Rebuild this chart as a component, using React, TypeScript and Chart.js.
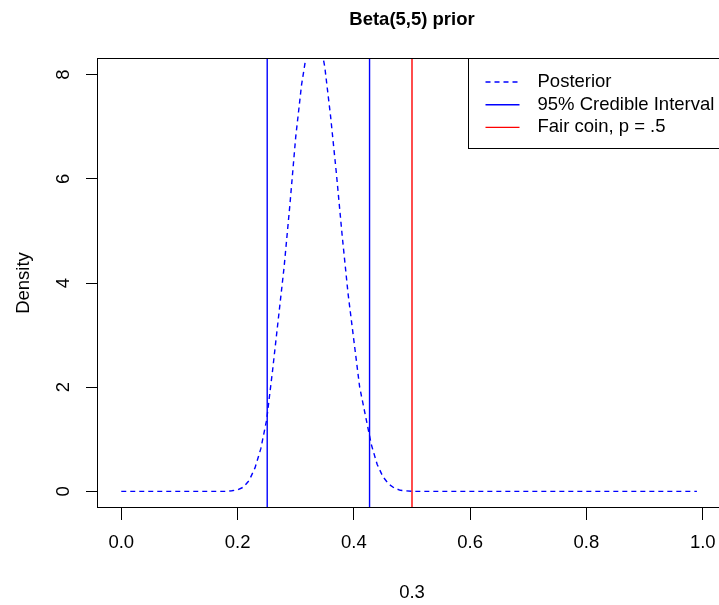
import React, { useEffect, useRef } from "react";
import { Chart, registerables } from "chart.js";

Chart.register(...registerables);

// ---- data ----
const posteriorX = [0, 0.18, 0.19, 0.2, 0.21, 0.22, 0.23, 0.24, 0.25, 0.26, 0.27, 0.28, 0.29, 0.3, 0.31, 0.32, 0.33, 0.34, 0.35, 0.36, 0.37, 0.38, 0.39, 0.4, 0.41, 0.42, 0.43, 0.44, 0.45, 0.46, 0.47, 0.48, 0.49, 0.5, 0.99];
const posteriorY = [0, 0, 0.01, 0.03, 0.08, 0.21, 0.45, 0.82, 1.37, 2.3, 3.3, 4.3, 5.5, 6.8, 7.8, 8.5, 8.85, 8.75, 8.15, 7.2, 6.1, 4.9, 3.8, 2.9, 2.0, 1.45, 0.9, 0.52, 0.28, 0.14, 0.06, 0.02, 0.01, 0, 0];
const credibleInterval = [0.251, 0.427];
const fairCoin = 0.5;

const xTicks = [0, 0.2, 0.4, 0.6, 0.8, 1.0];
const xTickLabels = ["0.0", "0.2", "0.4", "0.6", "0.8", "1.0"];
const yTicks = [0, 2, 4, 6, 8];
const yTickLabels = ["0", "2", "4", "6", "8"];
const xRange = [-0.04, 1.04];
const yRange = [-0.32, 8.32];

const titleText = "Beta(5,5) prior";
const xLabel = "0.3";
const yLabel = "Density";
const legendLabels = ["Posterior", "95% Credible Interval", "Fair coin, p = .5"];
const legendColors = ["rgb(0,0,255)", "rgb(0,0,255)", "rgb(255,0,0)"];
const legendDashed = [true, false, false];

const FONT = '"Liberation Sans", Arial, Helvetica, sans-serif';
const LW = 1.4;

const rPlugin = {
  id: "rStyle",
  afterDraw(chart: any) {
    const { ctx, chartArea } = chart;
    const { left, right, top, bottom } = chartArea;
    const xs = chart.scales.x;
    const ys = chart.scales.y;
    ctx.save();
    // box
    ctx.strokeStyle = "#000";
    ctx.lineWidth = 1;
    ctx.setLineDash([]);
    ctx.strokeRect(Math.round(left) - 0.5, Math.round(top) + 0.5, Math.round(right) - Math.round(left) + 1, Math.round(bottom) - Math.round(top) - 1);

    ctx.fillStyle = "#000";
    // title
    ctx.font = `bold 18.5px ${FONT}`;
    ctx.textAlign = "center";
    ctx.textBaseline = "middle";
    ctx.fillText(titleText, (left + right) / 2, top - 38);

    // x tick labels
    ctx.font = `18.5px ${FONT}`;
    xTicks.forEach((v, i) => {
      ctx.fillText(xTickLabels[i], xs.getPixelForValue(v), bottom + 35);
    });
    // x label
    ctx.fillText(xLabel, (left + right) / 2, bottom + 85);

    // y tick labels (rotated)
    yTicks.forEach((v, i) => {
      ctx.save();
      ctx.translate(left - 34, ys.getPixelForValue(v));
      ctx.rotate(-Math.PI / 2);
      ctx.fillText(yTickLabels[i], 0, 0);
      ctx.restore();
    });
    // y label
    ctx.save();
    ctx.translate(left - 74, (top + bottom) / 2);
    ctx.rotate(-Math.PI / 2);
    ctx.fillText(yLabel, 0, 0);
    ctx.restore();

    // legend
    const boxLeft = Math.round(right - 258) + 0.5;
    const boxTop = Math.round(top) + 0.5;
    ctx.strokeStyle = "#000";
    ctx.lineWidth = 1;
    ctx.strokeRect(boxLeft, boxTop, right - boxLeft + 5, 90);
    ctx.textAlign = "left";
    legendLabels.forEach((lab, i) => {
      const y = top + 24 + i * 22.7;
      ctx.save();
      ctx.beginPath();
      ctx.lineWidth = LW;
      ctx.strokeStyle = legendColors[i];
      ctx.setLineDash(legendDashed[i] ? [5, 4] : []);
      ctx.moveTo(boxLeft + 17, y);
      ctx.lineTo(boxLeft + 51, y);
      ctx.stroke();
      ctx.restore();
      ctx.fillStyle = "#000";
      ctx.fillText(lab, boxLeft + 69, y);
    });
    ctx.restore();
  },
};

export default function App() {
  const ref = useRef<HTMLCanvasElement>(null);
  useEffect(() => {
    const canvas = ref.current!;
    const vline = (x: number, color: string) => ({
      data: [
        { x, y: yRange[0] - 1 },
        { x, y: yRange[1] + 1 },
      ],
      showLine: true,
      borderColor: color,
      backgroundColor: color,
      borderWidth: LW,
      pointRadius: 0,
      fill: false,
    });
    const chart = new Chart(canvas, {
      type: "scatter",
      data: {
        datasets: [
          {
            data: posteriorX.map((x, i) => ({ x, y: posteriorY[i] })),
            showLine: true,
            borderColor: "rgb(0,0,255)",
            backgroundColor: "rgb(0,0,255)",
            borderWidth: LW,
            borderDash: [5, 4],
            pointRadius: 0,
            tension: 0,
            fill: false,
          },
          vline(credibleInterval[0], "rgb(0,0,255)"),
          vline(credibleInterval[1], "rgb(0,0,255)"),
          vline(fairCoin, "rgb(255,0,0)"),
        ] as any,
      },
      options: {
        responsive: false,
        animation: false,
        devicePixelRatio: 1,
        layout: { padding: { top: 58, left: 0, right: 0, bottom: 0 } },
        plugins: { legend: { display: false }, tooltip: { enabled: false }, title: { display: false } },
        scales: {
          x: {
            type: "linear",
            min: xRange[0],
            max: xRange[1],
            afterBuildTicks: (s: any) => {
              s.ticks = xTicks.map((v) => ({ value: v }));
            },
            afterFit: (s: any) => {
              s.height = 97;
            },
            ticks: { display: false },
            grid: { display: true, drawOnChartArea: false, drawTicks: true, tickLength: 12, color: "#000", lineWidth: 1 },
            border: { display: false },
          },
          y: {
            type: "linear",
            min: yRange[0],
            max: yRange[1],
            afterBuildTicks: (s: any) => {
              s.ticks = yTicks.map((v) => ({ value: v }));
            },
            afterFit: (s: any) => {
              s.width = 98;
            },
            ticks: { display: false },
            grid: { display: true, drawOnChartArea: false, drawTicks: true, tickLength: 12, color: "#000", lineWidth: 1 },
            border: { display: false },
          },
        },
      } as any,
      plugins: [rPlugin],
    });
    return () => chart.destroy();
  }, []);
  return (
    <div style={{ position: "fixed", left: 0, top: 0, width: 719, height: 605, overflow: "hidden", background: "#fff" }}>
      <canvas ref={ref} width={726} height={605} style={{ display: "block", width: 726, height: 605 }} />
    </div>
  );
}
